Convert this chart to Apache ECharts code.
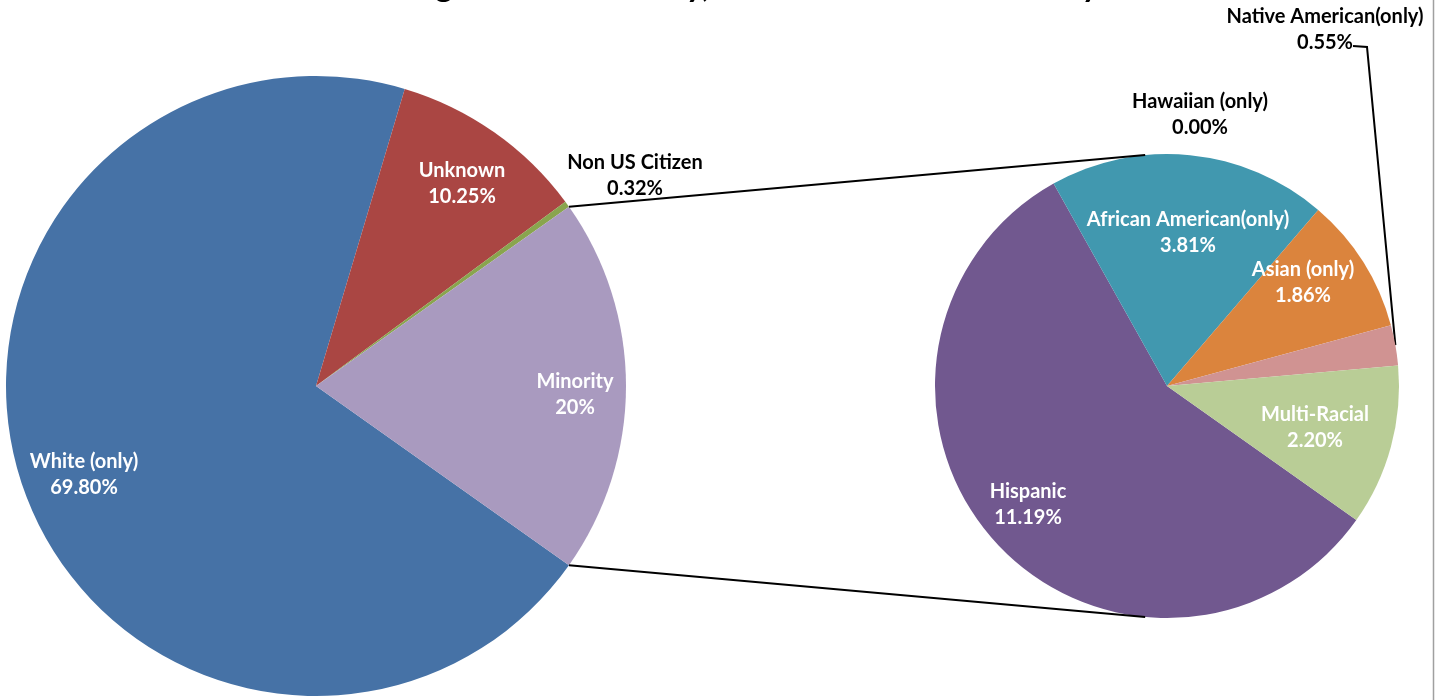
<!DOCTYPE html>
<html><head><meta charset="utf-8">
<script src="https://cdn.jsdelivr.net/npm/echarts/dist/echarts.min.js"></script>
<style>html,body{margin:0;padding:0;background:#fff}#c{width:1443px;height:700px}</style>
</head><body><div id="c"></div>
<script>
// ---- data ----
const titleText = 'Undergraduate Ethnicity, Fall 2012 Enrollment Only';
const mainCategories = ['White (only)', 'Unknown', 'Non US Citizen', 'Minority'];
const mainValues = [69.80, 10.25, 0.32, 19.61];
const mainLabels = ['69.80%', '10.25%', '0.32%', '20%'];
const minorityCategories = ['Hispanic', 'Hawaiian (only)', 'African American(only)', 'Asian (only)', 'Native American(only)', 'Multi-Racial'];
const minorityValues = [11.19, 0.00, 3.81, 1.86, 0.55, 2.20];
const minorityLabels = ['11.19%', '0.00%', '3.81%', '1.86%', '0.55%', '2.20%'];

// ---- styles / layout ----
const mainColors = ['#4672A6', '#AA4643', '#89A54E', '#A99ABF'];
const minorityColors = ['#71588F', '#93A9CF', '#4198AF', '#DB843D', '#D09392', '#B9CD96'];
const L = { cx: 316, cy: 386, r: 310 };
const R = { cx: 1167, cy: 386, r: 232 };
// label block centres, as offsets from each pie centre (as placed in the original)
const mainPlace = [[-232, 89], [146, -202], [319, -210], [259, 9]];
const minorPlace = [[-139, 119], [33, -271], [21, -153], [136, -103], [158, -356], [148, 42]];
const FONT = 'Lato, "Open Sans", sans-serif';

const sum = a => a.reduce((s, v) => s + v, 0);
const mainTotal = sum(mainValues);
const minorityShareDeg = mainValues[3] / mainTotal * 360;
const startAng = -minorityShareDeg / 2;
function midAngles(values, start) {
  const t = sum(values); let a = start;
  return values.map(v => { const s = v / t * 360; const m = a - s / 2; a -= s; return m; });
}
const minorMid = midAngles(minorityValues, startAng);
const rad = d => d * Math.PI / 180;
function polar(g, ang, rr) { return [g.cx + rr * Math.cos(rad(ang)), g.cy - rr * Math.sin(rad(ang))]; }

const chart = echarts.init(document.getElementById('c'), null, { renderer: 'canvas' });

const baseLabel = {
  show: true, position: 'inside', fontFamily: FONT, fontWeight: 'bold', fontSize: 20,
  lineHeight: 26, color: '#fff', align: 'center'
};
const outsideMain = [false, false, true, false];
const outsideMinor = [false, true, false, false, true, false];

const mainData = mainCategories.map((n, i) => ({
  name: n, value: mainValues[i], itemStyle: { color: mainColors[i] },
  label: outsideMain[i] ? { color: '#000' } : {}
}));
const minorData = minorityCategories.map((n, i) => {
  const d = { name: n, value: minorityValues[i], itemStyle: { color: minorityColors[i] } };
  if (outsideMinor[i]) d.label = { color: '#000' };
  if (n === 'Native American(only)') {
    d.label = { color: '#000', position: 'outside' };
    d.labelLine = { show: true, lineStyle: { color: '#000', width: 2 } };
  }
  return d;
});

// connector lines between the two pies
const topL = polar(L, -startAng, L.r), botL = polar(L, startAng, L.r);
const topR = polar(R, 95.4, R.r), botR = polar(R, -95.4, R.r);

chart.setOption({
  backgroundColor: '#fff',
  animation: false,
  title: {
    text: titleText, left: 'center', top: -35,
    textStyle: { fontFamily: FONT, fontWeight: 'bold', fontSize: 33, color: '#000' }
  },
  graphic: [
    { type: 'line', shape: { x1: topL[0], y1: topL[1], x2: topR[0], y2: topR[1] }, style: { stroke: '#000', lineWidth: 2 }, z: 10 },
    { type: 'line', shape: { x1: botL[0], y1: botL[1], x2: botR[0], y2: botR[1] }, style: { stroke: '#000', lineWidth: 2 }, z: 10 },
    { type: 'line', shape: { x1: 1433.5, y1: 0, x2: 1433.5, y2: 700 }, style: { stroke: '#A0A0A0', lineWidth: 1.5 } }
  ],
  series: [
    {
      type: 'pie', name: 'Overall', center: [L.cx, L.cy], radius: [0, L.r],
      startAngle: startAng, clockwise: true, avoidLabelOverlap: false, silent: true,
      itemStyle: { borderWidth: 0 },
      label: Object.assign({}, baseLabel, { formatter: p => p.name + '\n' + mainLabels[p.dataIndex] }),
      labelLine: { show: false },
      labelLayout: p => {
        const o = mainPlace[p.dataIndex];
        return { x: L.cx + o[0], y: L.cy + o[1], align: 'center', verticalAlign: 'middle' };
      },
      data: mainData
    },
    {
      type: 'pie', name: 'Minority', center: [R.cx, R.cy], radius: [0, R.r],
      startAngle: startAng, clockwise: true, avoidLabelOverlap: false, silent: true,
      itemStyle: { borderWidth: 0 },
      label: Object.assign({}, baseLabel, { formatter: p => p.name + '\n' + minorityLabels[p.dataIndex] }),
      labelLine: { show: false },
      labelLayout: p => {
        const i = p.dataIndex; const x = R.cx + minorPlace[i][0], y = R.cy + minorPlace[i][1];
        const o = { x: x, y: y, align: 'center', verticalAlign: 'middle' };
        if (minorityCategories[i] === 'Native American(only)') {
          const edge = polar(R, minorMid[i], R.r);
          o.labelLinePoints = [[x + 28, y + 16], [x + 42, y + 17], edge];
        }
        return o;
      },
      data: minorData
    }
  ]
});
</script></body></html>
